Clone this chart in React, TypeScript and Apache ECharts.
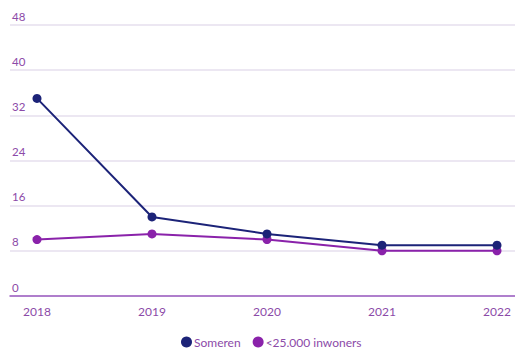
import React, { useEffect, useRef } from "react";
import * as echarts from "echarts";

const years = [2018, 2019, 2020, 2021, 2022];
const someren = [35, 14, 11, 9, 9];
const kleinGemeenten = [10, 11, 10, 8, 8];
const yTicks = { min: 0, max: 48, interval: 8 };

const NAVY = "#1c2378";
const PURPLE = "#8a22aa";
const TEXT = "#8c4aa8";

export default function App() {
  const ref = useRef<HTMLDivElement>(null);
  useEffect(() => {
    document.body.style.margin = "0";
    const chart = echarts.init(ref.current!, undefined, { renderer: "svg" });
    chart.setOption({
      animation: false,
      textStyle: { fontFamily: "Lato" },
      grid: { left: 10, right: 0, top: 25, bottom: 60, containLabel: false },
      legend: {
        bottom: 3,
        left: 176,
        icon: "circle",
        itemWidth: 11,
        itemHeight: 11,
        itemGap: 12,
        textStyle: { color: TEXT, fontSize: 12, fontFamily: "Lato", padding: [0, 0, 0, -3] },
        data: ["Someren", "<25.000 inwoners"],
      },
      xAxis: {
        type: "value",
        min: 2018 - 27 / 115,
        max: 2022 + 18 / 115,
        splitLine: { show: false },
        axisTick: { show: false },
        axisLine: { show: true, lineStyle: { color: "#9b5cc0", width: 1.5 } },
        axisLabel: {
          color: TEXT,
          fontSize: 12,
          margin: 9,
          showMinLabel: false,
          showMaxLabel: false,
          formatter: (v: number) => (Number.isInteger(v) && years.includes(v) ? String(v) : ""),
        },
      },
      yAxis: {
        type: "value",
        min: yTicks.min,
        max: yTicks.max,
        interval: yTicks.interval,
        axisLine: { show: false },
        axisTick: { show: false },
        splitLine: { lineStyle: { color: "#e6dfee", width: 1.5 } },
        axisLabel: {
          inside: true,
          align: "left",
          verticalAlign: "bottom",
          margin: 2,
          padding: [0, 0, 3, 0],
          color: TEXT,
          fontSize: 11.5,
        },
      },
      series: [
        {
          name: "Someren",
          type: "line",
          data: years.map((y, i) => [y, someren[i]]),
          symbol: "circle",
          symbolSize: 9,
          itemStyle: { color: NAVY },
          lineStyle: { color: NAVY, width: 2 },
          z: 3,
        },
        {
          name: "<25.000 inwoners",
          type: "line",
          data: years.map((y, i) => [y, kleinGemeenten[i]]),
          symbol: "circle",
          symbolSize: 9,
          itemStyle: { color: PURPLE },
          lineStyle: { color: PURPLE, width: 2 },
          z: 2,
        },
      ],
    });
    return () => chart.dispose();
  }, []);
  return <div ref={ref} style={{ width: 515, height: 356 }} />;
}
